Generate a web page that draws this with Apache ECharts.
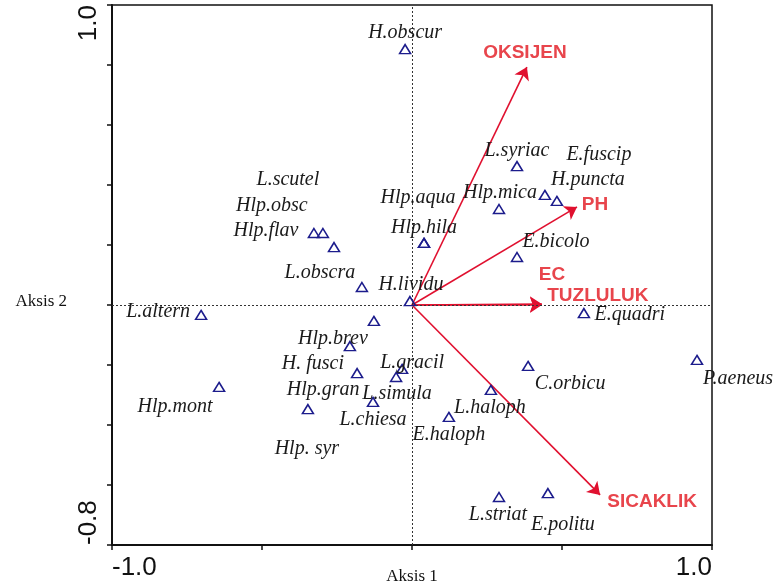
<!DOCTYPE html>
<html>
<head>
<meta charset="utf-8">
<title>CCA biplot</title>
<script src="https://cdn.jsdelivr.net/npm/echarts/dist/echarts.min.js"></script>
<style>
  html, body { margin: 0; padding: 0; background: #fff; }
  #main { width: 777px; height: 588px; }
</style>
</head>
<body>
<div id="main"></div>
<script>
// species scores (axis 1, axis 2)
const speciesNames = ['H.obscur', 'L.syriac', 'E.fuscip', 'H.puncta', 'Hlp.mica', 'Hlp.aqua', 'Hlp.hila',
  'L.scutel', 'Hlp.obsc', 'Hlp.flav', 'L.obscra', 'H.lividu', 'E.bicolo', 'L.altern', 'Hlp.brev',
  'H. fusci', 'Hlp.gran', 'L.gracil', 'L.simula', 'L.chiesa', 'Hlp. syr', 'Hlp.mont', 'E.haloph',
  'L.haloph', 'C.orbicu', 'P.aeneus', 'E.quadri', 'L.striat', 'E.politu'];
const speciesAxis1 = [-0.023, 0.350, 0.483, 0.443, 0.290, 0.040, 0.040,
  -0.327, -0.297, -0.260, -0.167, -0.007, 0.350, -0.703, -0.127,
  -0.207, -0.183, -0.033, -0.053, -0.130, -0.347, -0.643, 0.123,
  0.263, 0.387, 0.950, 0.573, 0.290, 0.453];
const speciesAxis2 = [0.853, 0.463, 0.347, 0.367, 0.320, 0.207, 0.207,
  0.240, 0.240, 0.193, 0.060, 0.013, 0.160, -0.033, -0.053,
  -0.137, -0.227, -0.213, -0.240, -0.323, -0.347, -0.273, -0.373,
  -0.283, -0.203, -0.183, -0.027, -0.640, -0.627];

// environmental variable arrows
const envNames = ['OKSIJEN', 'PH', 'EC', 'TUZLULUK', 'SICAKLIK'];
const envAxis1 = [0.383, 0.550, 0.433, 0.433, 0.627];
const envAxis2 = [0.793, 0.327, 0.003, 0.000, -0.633];

// tick labels shown on the axes
const xTickLabels = [-1.0, 1.0];
const yTickLabels = [-0.8, 1.0];

// label placement (pixels, relative to the point)
const speciesLabelOffsets = [[0, -16], [0, -15], [42, -46], [43, -15], [1, -16], [-6, -45], [0, -15],
  [-26, -53], [-51, -27], [-68, -16], [-42, -14], [1, -16], [39, -15], [-43, -3], [-41, 18],
  [-37, 18], [-34, 17], [10, -6], [1, 17], [0, 18], [-1, 40], [-44, 20], [0, 18],
  [-1, 18], [42, 18], [41, 19], [46, 2], [-1, 18], [15, 32]];
const envLabelOffsets = [[-2, -14], [18, -2], [10, -29], [56, -9], [52, 7]];

const chart = echarts.init(document.getElementById('main'));

const red = '#e0102f';
const labelRed = '#e8454c';

function tickFmt(list) {
  return function (v) {
    for (let t of list) {
      if (Math.abs(v - t) < 1e-6) return t.toFixed(1);
    }
    return '';
  };
}

function offsetLayout(offsets) {
  return function (p) {
    const o = offsets[p.dataIndex];
    return { dx: o[0], dy: o[1], hideOverlap: false };
  };
}

const option = {
  animation: false,
  backgroundColor: '#fff',
  grid: {
    left: 112, right: 65, top: 5, bottom: 43,
    show: true, borderColor: '#111', borderWidth: 1.5,
    outerBoundsMode: 'none'
  },
  xAxis: {
    type: 'value', min: -1, max: 1, interval: 0.5,
    name: 'Aksis 1', nameLocation: 'middle', nameGap: 23, nameMoveOverlap: false,
    nameTextStyle: { fontFamily: 'Liberation Serif', fontSize: 17, color: '#111' },
    axisLine: { show: true, onZero: false, lineStyle: { color: '#111', width: 2 } },
    axisTick: { show: true, inside: false, length: 5, lineStyle: { color: '#111', width: 1.5 } },
    axisLabel: {
      formatter: tickFmt(xTickLabels), fontFamily: 'Liberation Sans', fontSize: 26, color: '#111',
      margin: 10, alignMinLabel: 'left', alignMaxLabel: 'right', showMinLabel: true, showMaxLabel: true
    },
    splitLine: { show: false }
  },
  yAxis: {
    type: 'value', min: -0.8, max: 1, interval: 0.2,
    name: '\nAksis 2', nameLocation: 'middle', nameGap: 45, nameRotate: 0, nameMoveOverlap: false,
    nameTextStyle: { fontFamily: 'Liberation Serif', fontSize: 17, color: '#111', lineHeight: 54 },
    axisLine: { show: true, onZero: false, lineStyle: { color: '#111', width: 2 } },
    axisTick: { show: true, inside: false, length: 5, lineStyle: { color: '#111', width: 1.5 } },
    axisLabel: {
      formatter: tickFmt(yTickLabels), fontFamily: 'Liberation Sans', fontSize: 26, color: '#111',
      rotate: 90, margin: 10, alignMinLabel: 'left', alignMaxLabel: 'right',
      showMinLabel: true, showMaxLabel: true
    },
    splitLine: { show: false }
  },
  series: [
    {
      name: 'zero',
      type: 'scatter',
      data: [],
      markLine: {
        silent: true, symbol: 'none', animation: false,
        label: { show: false },
        lineStyle: { color: '#333', width: 1, type: [2, 2] },
        data: [{ xAxis: 0 }, { yAxis: 0 }]
      }
    },
    {
      name: 'env',
      type: 'lines',
      coordinateSystem: 'cartesian2d',
      symbol: ['none', 'arrow'],
      symbolSize: 12,
      lineStyle: { color: red, width: 1.6, opacity: 1 },
      data: envNames.map((n, i) => ({ coords: [[0, 0], [envAxis1[i], envAxis2[i]]] })),
      z: 3
    },
    {
      name: 'envLabels',
      type: 'scatter',
      symbol: 'circle',
      symbolSize: 1,
      itemStyle: { color: 'rgba(0,0,0,0)', opacity: 1 },
      data: envNames.map((n, i) => ({ name: n, value: [envAxis1[i], envAxis2[i]] })),
      label: {
        show: true, position: 'inside', formatter: '{b}', opacity: 1,
        fontFamily: 'Liberation Sans', fontWeight: 'bold', fontSize: 19, color: labelRed
      },
      labelLayout: offsetLayout(envLabelOffsets),
      z: 4
    },
    {
      name: 'species',
      type: 'scatter',
      symbol: 'triangle',
      symbolSize: [11, 9],
      itemStyle: { color: 'rgba(0,0,0,0)', borderColor: '#1c1c8c', borderWidth: 1.5, opacity: 1 },
      data: speciesNames.map((n, i) => ({ name: n, value: [speciesAxis1[i], speciesAxis2[i]] })),
      label: {
        show: true, position: 'inside', formatter: '{b}', opacity: 1,
        fontFamily: 'Liberation Serif', fontStyle: 'italic', fontSize: 20, color: '#1a1a1a'
      },
      labelLayout: offsetLayout(speciesLabelOffsets),
      z: 5
    }
  ]
};

chart.setOption(option);
</script>
</body>
</html>
